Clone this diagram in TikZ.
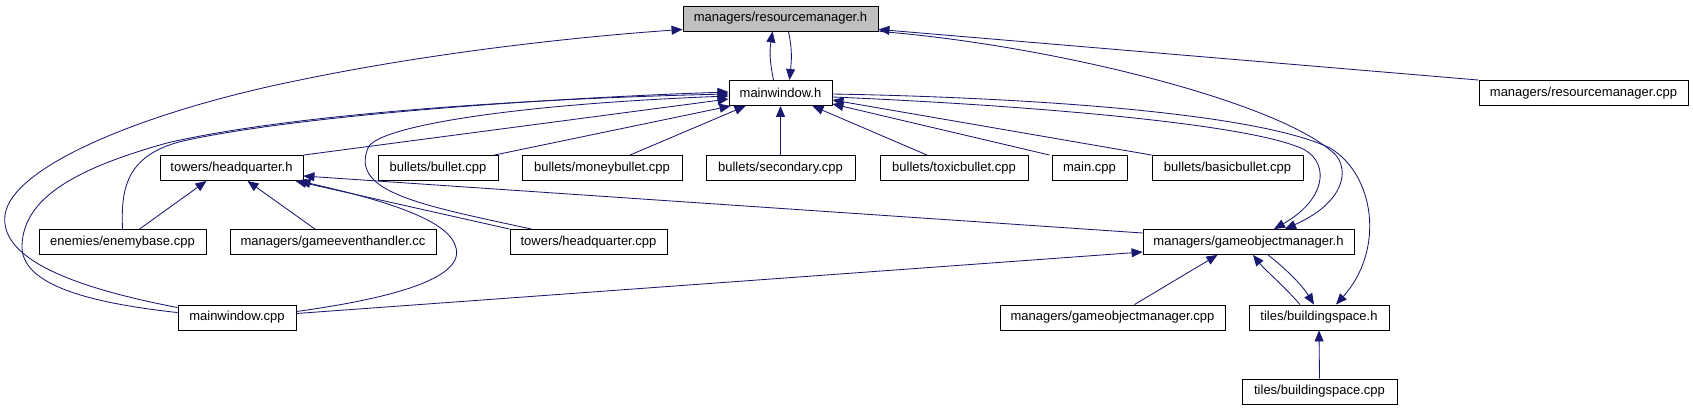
\documentclass[tikz,border=0pt]{standalone}
\usepackage{fontspec}
\setmainfont{Liberation Sans}
\usetikzlibrary{arrows.meta,calc}
\definecolor{edgecol}{HTML}{191970}
\definecolor{rootfill}{HTML}{BFBFBF}
\begin{document}
\begin{tikzpicture}[x=1pt,y=-1pt,
  box/.style={draw=black, line width=0.9pt, fill=white, minimum height=25pt, inner sep=0pt, font=\fontsize{13}{15}\selectfont},
  inc/.style={draw=edgecol, line width=0.85pt, -{Triangle[length=11pt,width=9pt]}},
  plain/.style={draw=edgecol, line width=0.85pt}
]
\useasboundingbox (0,0) rectangle (1693,411);

% nodes
\node[box, fill=rootfill, minimum width=195pt] (RM) at (780.5,18.5) {managers/resourcemanager.h};
\node[box, minimum width=103pt] (MW) at (780.5,93) {mainwindow.h};
\node[box, minimum width=209pt] (RMC) at (1583.5,93) {managers/resourcemanager.cpp};
\node[box, minimum width=143pt] (HQH) at (231.5,168) {towers/headquarter.h};
\node[box, minimum width=120pt] (BUL) at (438,168) {bullets/bullet.cpp};
\node[box, minimum width=160pt] (MON) at (602,168) {bullets/moneybullet.cpp};
\node[box, minimum width=149pt] (SEC) at (780.5,168) {bullets/secondary.cpp};
\node[box, minimum width=148pt] (TOX) at (954,168) {bullets/toxicbullet.cpp};
\node[box, minimum width=75pt] (MAIN) at (1089.5,168) {main.cpp};
\node[box, minimum width=151pt] (BAS) at (1227.5,168) {bullets/basicbullet.cpp};
\node[box, minimum width=167pt] (ENB) at (122.5,242) {enemies/enemybase.cpp};
\node[box, minimum width=206pt] (GEH) at (333,242) {managers/gameeventhandler.cc};
\node[box, minimum width=157pt] (HQC) at (588.5,242) {towers/headquarter.cpp};
\node[box, minimum width=211pt] (GOMH) at (1248.5,242) {managers/gameobjectmanager.h};
\node[box, minimum width=118pt] (MWC) at (237,317.5) {mainwindow.cpp};
\node[box, minimum width=225pt] (GOMC) at (1112.5,317.5) {managers/gameobjectmanager.cpp};
\node[box, minimum width=140pt] (BSH) at (1319,317.5) {tiles/buildingspace.h};
\node[box, minimum width=155pt] (BSC) at (1319.5,391.5) {tiles/buildingspace.cpp};

% mainwindow.h <-> resourcemanager.h
\draw[inc] ($(MW.north)+(-7,0)$) .. controls ($(MW.north)+(-11,-20)$) and ($(RM.south)+(-11,20)$) .. ($(RM.south)+(-8,0)$);
\draw[inc] ($(RM.south)+(8,0)$) .. controls ($(RM.south)+(12,20)$) and ($(MW.north)+(11,-20)$) .. ($(MW.north)+(9,0)$);

% resourcemanager.cpp -> resourcemanager.h
\draw[inc] (RMC.north west) -- ($(RM.south east)+(0,-2)$);

% mainwindow.cpp -> resourcemanager.h (outer left curve)
\draw[inc] ($(MWC.north west)+(0,3)$) .. controls (60,285) and (0,255) .. (5,215)
  .. controls (12,165) and (150,110) .. (300,80)
  .. controls (420,55) and (560,38) .. ($(RM.south west)+(0,-2)$);

% mainwindow.cpp -> mainwindow.h (left curve)
\draw[inc] ($(MWC.north west)+(0,8)$) .. controls (90,303) and (20,285) .. (22,245)
  .. controls (24,200) and (70,170) .. (167,143)
  .. controls (300,112) and (550,98) .. ($(MW.west)+(0,1)$);

% enemybase.cpp -> mainwindow.h
\draw[inc] (ENB.north) .. controls (121,190) and (125,155) .. (183,141)
  .. controls (300,115) and (550,98) .. ($(MW.west)+(0,-1)$);

% headquarter.cpp -> mainwindow.h
\draw[inc] ($(HQC.north west)+(22,0)$) .. controls (420,205) and (350,192) .. (368,148)
  .. controls (375,128) and (500,105) .. ($(MW.west)+(0,3)$);

% straight edges into mainwindow.h
\draw[inc] (HQH.north east) -- ($(MW.west)+(0,6)$);
\draw[inc] ($(BUL.north east)+(-4,0)$) -- ($(MW.south west)+(2,0)$);
\draw[inc] ($(MON.north)+(28,0)$) -- ($(MW.south west)+(17,0)$);
\draw[inc] (SEC.north) -- (MW.south);
\draw[inc] ($(TOX.north)+(-27,0)$) -- ($(MW.south east)+(-20,0)$);
\draw[inc] ($(MAIN.north)+(-40,0)$) -- ($(MW.south east)+(0,-2)$);
\draw[inc] (BAS.north west) -- ($(MW.east)+(0,7)$);

% resourcemanager.h -> gameobjectmanager.h
\draw[inc] ($(RM.south east)+(1,0)$) .. controls (1050,45) and (1270,100) .. (1330,150)
  .. controls (1350,163) and (1350,200) .. ($(GOMH.north)+(36.5,0)$);
% mainwindow.h -> buildingspace.h
\draw[inc] ($(MW.east)+(0,1)$) .. controls (1000,97) and (1250,110) .. (1330,148)
  .. controls (1375,175) and (1385,250) .. ($(BSH.north)+(17,0)$);
% mainwindow.h -> gameobjectmanager.h
\draw[inc] ($(MW.east)+(0,4)$) .. controls (1000,104) and (1250,122) .. (1305,150)
  .. controls (1330,165) and (1325,200) .. ($(GOMH.north)+(25.5,0)$);

% into towers/headquarter.h
\draw[inc] ($(ENB.north)+(17,0)$) -- ($(HQH.south)+(-25,0)$);
\draw[inc] ($(GEH.north)+(-18,0)$) -- ($(HQH.south)+(16,0)$);
\draw[inc] (HQC.north west) -- ($(HQH.south east)+(-8,0)$);
\draw[inc] ($(GOMH.west)+(0,-9)$) -- ($(HQH.east)+(0,8)$);
\draw[inc] ($(MWC.east)+(0,-6)$) .. controls (380,300) and (470,280) .. (455,245)
  .. controls (445,215) and (360,195) .. ($(HQH.south east)+(-4,0)$);

% into gameobjectmanager.h
\draw[inc] ($(MWC.east)+(0,-4)$) -- ($(GOMH.west)+(0,10)$);
\draw[inc] ($(GOMC.north)+(22,0)$) -- ($(GOMH.south)+(-31,0)$);
\draw[inc] ($(BSH.north)+(-19,0)$) .. controls (1283,285) and (1265,270) .. ($(GOMH.south)+(4.5,0)$);
\draw[inc] ($(GOMH.south)+(19.5,0)$) .. controls (1285,268) and (1302,285) .. ($(BSH.north)+(-5,0)$);

% buildingspace.cpp -> buildingspace.h
\draw[inc] (BSC.north) -- (BSH.south);
\end{tikzpicture}
\end{document}
